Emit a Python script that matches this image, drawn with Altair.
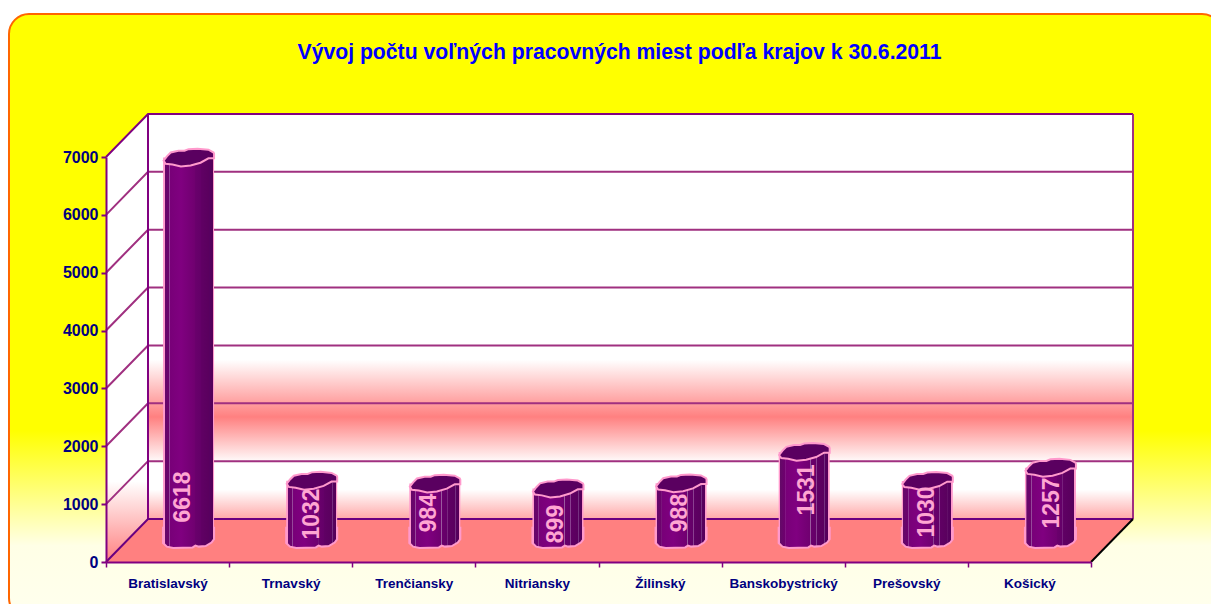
import json
import altair as alt
import pandas as pd

categories = ["Bratislavský", "Trnavský", "Trenčiansky", "Nitriansky", "Žilinský", "Banskobystrický", "Prešovský", "Košický"]
values = [6618, 1032, 984, 899, 988, 1531, 1030, 1257]
y_ticks = [0, 1000, 2000, 3000, 4000, 5000, 6000, 7000]
title_text = "Vývoj počtu voľných pracovných miest podľa krajov k 30.6.2011"

# layout (pixels on the page)
VIEW_W, VIEW_H = 985, 405
PAD = dict(left=98, top=149, right=120, bottom=42)
UX = VIEW_W / 8
UY = VIEW_H / 7000
DEPTH_X = 42 / UX
DEPTH_Y = 43 / UY
BAR_W = 51
label_dx = [-6, 0, -6, -2, -1, 3, 0, 2]
label_page_y = [497, 514, 513, 524, 513, 490, 512, 503]


def px_x(p):
    return (p - 106) / UX


def px_y(p):
    return (562 - p) / UY


x_scale = alt.Scale(domain=[0, 8], range=[0, VIEW_W], nice=False, zero=False)
y_scale = alt.Scale(domain=[0, 7000], range=[VIEW_H, 0], nice=False, zero=False)
PURPLE = "#800080"
NAVY = "#000080"
label_font = "Liberation Sans"
x_axis = alt.Axis(
    values=list(range(9)), title=None, grid=False, zindex=1,
    labelExpr="(" + json.dumps(categories, ensure_ascii=False) + ")[datum.value] || ''",
    labelOffset=61.5, labelOverlap=False, labelBound=False, labelFlush=False,
    labelFont=label_font, labelFontWeight="bold", labelFontSize=13.5, labelColor=NAVY, labelPadding=9,
    tickColor=PURPLE, tickSize=5, tickWidth=1.5, domainColor=PURPLE, domainWidth=2,
)
y_axis = alt.Axis(
    values=y_ticks, title=None, grid=False, zindex=1, format="d",
    labelFont=label_font, labelFontWeight="bold", labelFontSize=16, labelColor=NAVY, labelPadding=3,
    labelOverlap=False, labelBound=False,
    tickColor=PURPLE, tickSize=5, tickWidth=2, domainColor=PURPLE, domainWidth=2,
)
X = lambda f: alt.X(f, type="quantitative", scale=x_scale, axis=x_axis)
Y = lambda f: alt.Y(f, type="quantitative", scale=y_scale, axis=y_axis)


def grad(stops, horizontal=False):
    return alt.Gradient(
        gradient="linear",
        stops=[alt.GradientStop(color=c, offset=o) for o, c in stops],
        x1=0, x2=1 if horizontal else 0, y1=0, y2=0 if horizontal else 1,
    )


# backdrop
bg_df = pd.DataFrame([{"x": px_x(9), "x2": px_x(1222), "y": px_y(14), "y2": px_y(618)}])
backdrop = alt.Chart(bg_df).mark_rect(
    cornerRadius=20, stroke="#ff6600", strokeWidth=2,
    color=grad([(0, "#ffff00"), (0.69, "#ffff00"), (0.88, "#ffffe6"), (1, "#ffffee")]),
).encode(x=X("x"), x2="x2", y=Y("y"), y2="y2")

# walls
wall_df = pd.DataFrame([{"x": DEPTH_X, "x2": 8 + DEPTH_X, "y": DEPTH_Y, "y2": 7000 + DEPTH_Y}])
back_wall = alt.Chart(wall_df).mark_rect(
    color=grad([(0, "#ffffff"), (0.607, "#ffffff"), (0.748, "#ff8080"), (0.862, "#ffffff"), (0.928, "#ffffff"), (1, "#ffa8a8")]),
).encode(x=X("x"), x2="x2", y=Y("y"), y2="y2")

left_df = pd.DataFrame({"x": [0, DEPTH_X], "lo": [0, DEPTH_Y], "hi": [7000, 7000 + DEPTH_Y]})
left_wall = alt.Chart(left_df).mark_area(
    orient="vertical",
    color=grad([(0, "#ffffff"), (0.82, "#ffffff"), (1, "#ff8080")]),
).encode(x=X("x"), y=Y("hi"), y2="lo")

floor_df = pd.DataFrame({"x": [0, DEPTH_X, 8, 8 + DEPTH_X], "lo": [0, 0, 0, DEPTH_Y], "hi": [0, DEPTH_Y, DEPTH_Y, DEPTH_Y]})
floor = alt.Chart(floor_df).mark_area(orient="vertical", color="#ff8080").encode(x=X("x"), y=Y("hi"), y2="lo")

# grid lines running over the side wall and the back wall
rows = []
for v in y_ticks[1:-1]:
    rows += [
        {"g": v, "o": 0, "x": 0, "y": v},
        {"g": v, "o": 1, "x": DEPTH_X, "y": v + DEPTH_Y},
        {"g": v, "o": 2, "x": 8 + DEPTH_X, "y": v + DEPTH_Y},
    ]
grid = alt.Chart(pd.DataFrame(rows)).mark_line(color="#a03080", strokeWidth=2).encode(
    x=X("x"), y=Y("y"), detail="g:N", order="o:Q"
)


def poly(points, color, width):
    df = pd.DataFrame([{"o": i, "x": p[0], "y": p[1]} for i, p in enumerate(points)])
    return alt.Chart(df).mark_line(color=color, strokeWidth=width).encode(x=X("x"), y=Y("y"), order="o:Q")


edges = [
    poly([(0, 7000), (DEPTH_X, 7000 + DEPTH_Y), (8 + DEPTH_X, 7000 + DEPTH_Y)], PURPLE, 2),
    poly([(DEPTH_X, DEPTH_Y), (DEPTH_X, 7000 + DEPTH_Y)], PURPLE, 2),
    poly([(8 + DEPTH_X, DEPTH_Y), (8 + DEPTH_X, 7000 + DEPTH_Y)], "#a03080", 2),
    poly([(0, 0), (DEPTH_X, DEPTH_Y), (8 + DEPTH_X, DEPTH_Y)], "#6a0080", 2),
    poly([(8, 0), (8 + DEPTH_X, DEPTH_Y)], "#000000", 2),
]

# cylinders
PINK = "#ff99cc"
CAP = ("M-0.98,0.12 L-0.85,-0.05 L-0.7,-0.2 L-0.4,-0.27 L-0.16,-0.27 L0,-0.33 L0.35,-0.35 L0.78,-0.31 "
       "L0.98,-0.2 L1,-0.15 L1,0.03 L0.78,0.03 L0.47,0.2 L0.08,0.31 L-0.3,0.35 L-0.63,0.27 L-0.9,0.24 Z")
BASE = ("M-1,-0.5 L1,-0.5 L1,-0.05 L0.9,0.08 L0.67,0.22 L0.4,0.24 L0.27,0.2 L0.16,0.27 "
        "L-0.6,0.29 L-0.85,0.24 L-1,0.1 Z")
body_stops = [
    (0, PINK), (0.03, PINK), (0.031, "#640a68"), (0.115, "#6e006e"), (0.12, "#96489a"), (0.13, "#96489a"), (0.135, "#780078"),
    (0.35, "#800080"), (0.62, "#700070"), (0.622, "#9a5a9e"), (0.632, "#9a5a9e"), (0.634, "#6a006c"),
    (0.735, "#640068"), (0.738, "#8a4090"), (0.748, "#8a4090"), (0.75, "#600064"),
    (0.895, "#5a005e"), (0.898, "#763080"), (0.908, "#763080"), (0.91, "#580060"), (0.97, "#540058"), (0.971, PINK), (1, PINK),
]
cx = [i + 0.5 + DEPTH_X / 2 for i in range(8)]
half = BAR_W / 2 / UX
base_y = DEPTH_Y / 2
bars_df = pd.DataFrame({
    "cat": categories, "value": values, "cx": cx,
    "x0": [c - half for c in cx], "x1": [c + half for c in cx],
    "base": [base_y] * 8, "top": [base_y + v for v in values],
    "body_end": [base_y + 8 / UY] * 8,
    "lx": [c + d / UX for c, d in zip(cx, label_dx)],
    "ly": [px_y(p) for p in label_page_y],
})
base_cap = alt.Chart(bars_df).mark_point(
    shape=BASE, size=BAR_W ** 2, filled=True, opacity=1, fill=grad(body_stops, True), stroke=PINK, strokeWidth=2,
).encode(x=X("cx"), y=Y("base"))
body = alt.Chart(bars_df).mark_rect(color=grad(body_stops, True)).encode(
    x=X("x0"), x2="x1", y=Y("top"), y2="body_end"
)
top_cap = alt.Chart(bars_df).mark_point(
    shape=CAP, size=BAR_W ** 2, filled=True, opacity=1, fill="#5a0060", stroke=PINK, strokeWidth=2,
).encode(x=X("cx"), y=Y("top"))
bar_labels = alt.Chart(bars_df).mark_text(
    angle=270, font="Liberation Sans", fontWeight="bold", fontSize=23, color="#ffa6d2", baseline="middle", align="center",
).encode(x=X("lx"), y=Y("ly"), text="value:Q")

chart = alt.layer(
    backdrop, back_wall, left_wall, floor, grid, *edges, base_cap, body, top_cap, bar_labels
).properties(
    width=VIEW_W, height=VIEW_H, padding=PAD,
    autosize=alt.AutoSizeParams(type="none"),
    background="transparent",
    title=alt.TitleParams(
        title_text, font=label_font, fontWeight="bold", fontSize=21.2, color="#0000ff",
        anchor="middle", frame="group", offset=-50, dx=21,
    ),
).configure_view(stroke=None)

chart.save("out.html", embed_options={"renderer": "svg", "actions": False})
